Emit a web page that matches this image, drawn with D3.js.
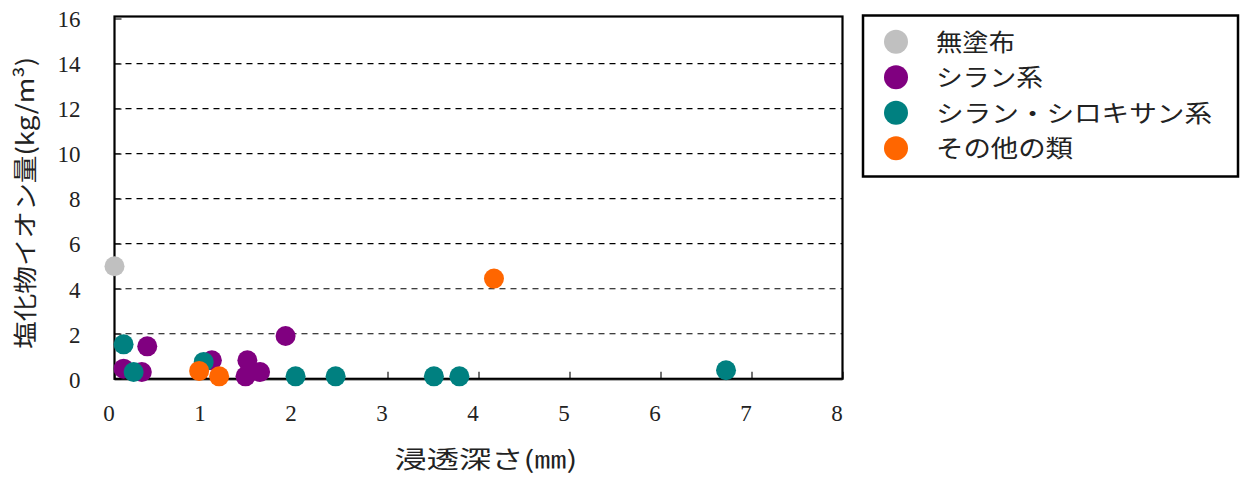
<!DOCTYPE html>
<html><head><meta charset="utf-8">
<script src="https://cdn.jsdelivr.net/npm/d3@7"></script>
<style>body{margin:0;background:#fff}svg{display:block}</style>
</head><body>
<svg id="c" width="1243" height="477"></svg>
<script>
const seriesNames = ["無塗布", "シラン系", "シラン・シロキサン系", "その他の類"];
const seriesColors = ["#c0c0c0", "#800080", "#008080", "#ff6600"];
const mutofuX = [0.0];
const mutofuY = [5.0];
const silaneX = [0.1, 0.36, 0.3, 1.07, 1.46, 1.44, 1.6, 1.88];
const silaneY = [0.45, 1.44, 0.3, 0.82, 0.82, 0.11, 0.3, 1.9];
const siloxX = [0.1, 0.21, 0.98, 1.99, 2.43, 3.51, 3.79, 6.72];
const siloxY = [1.53, 0.3, 0.75, 0.11, 0.11, 0.11, 0.11, 0.38];
const otherX = [0.93, 1.15, 4.17];
const otherY = [0.35, 0.11, 4.45];
const xTicks = [0, 1, 2, 3, 4, 5, 6, 7, 8];
const yTicks = [0, 2, 4, 6, 8, 10, 12, 14, 16];
const xTitle = "浸透深さ(㎜)";
const yTitle = "塩化物イオン量(kg/m³)";

const seriesX = [mutofuX, silaneX, siloxX, otherX];
const seriesY = [mutofuY, silaneY, siloxY, otherY];

const svg = d3.select("#c");
const L = 114.5, R = 842.5, T = 18.5, B = 378.8;
const x = d3.scaleLinear().domain([0, 8]).range([L, R]);
const y = d3.scaleLinear().domain([0, 16]).range([B, T]);
const jp = "'Noto Sans CJK JP','Noto Sans CJK SC',sans-serif";
const serifFont = "Liberation Serif";

// gridlines
svg.append("g").selectAll("line").data(yTicks.filter(v => v > 0 && v < 16)).join("line")
  .attr("x1", L).attr("x2", R).attr("y1", d => y(d)).attr("y2", d => y(d))
  .attr("stroke", "#000").attr("stroke-width", 1.2).attr("stroke-dasharray", "6,5");

// axes with inward ticks
const xAxis = d3.axisBottom(x).tickValues(xTicks).tickSize(-7).tickFormat(d3.format("d"));
const gx = svg.append("g").attr("transform", `translate(0,${B})`).call(xAxis);
gx.select(".domain").remove();
gx.selectAll(".tick line").attr("stroke", "#444").attr("stroke-width", 1.5);
gx.selectAll(".tick text")
  .style("font-family", serifFont).style("font-size", "23px").style("fill", "#222")
  .attr("dx", -6).attr("y", 26).attr("dy", "0.71em");

const yAxis = d3.axisLeft(y).tickValues(yTicks).tickSize(-7);
const gy = svg.append("g").attr("transform", `translate(${L},0)`).call(yAxis);
gy.select(".domain").remove();
gy.selectAll(".tick line").attr("stroke", "#444").attr("stroke-width", 1.5);
gy.selectAll(".tick text")
  .style("font-family", serifFont).style("font-size", "23px").style("fill", "#222")
  .attr("x", -34).attr("dy", "0.36em");

// frame
svg.append("line").attr("x1", L).attr("x2", R).attr("y1", B + 1.5).attr("y2", B + 1.5).attr("stroke", "#999").attr("stroke-width", 1);
svg.append("rect").attr("x", L).attr("y", T - 2).attr("width", R - L).attr("height", B - T + 2)
  .attr("fill", "none").attr("stroke", "#000").attr("stroke-width", 2.2);

// points
seriesNames.forEach((name, i) => {
  const pts = seriesX[i].map((v, j) => [v, seriesY[i][j]]);
  svg.append("g").selectAll("circle").data(pts).join("circle")
    .attr("cx", d => x(d[0])).attr("cy", d => y(d[1])).attr("r", 10)
    .attr("fill", seriesColors[i]);
});

// axis titles
svg.append("text").attr("x", 486).attr("y", 468).attr("text-anchor", "middle")
  .style("font-family", jp).style("font-size", "24px").attr("fill", "#222")
  .attr("textLength", 183).attr("lengthAdjust", "spacingAndGlyphs").text(xTitle);
svg.append("text").attr("transform", "translate(34,203) rotate(-90)").attr("text-anchor", "middle")
  .style("font-family", jp).style("font-size", "24px").attr("fill", "#222")
  .attr("textLength", 292).attr("lengthAdjust", "spacingAndGlyphs").text(yTitle);

// legend
const lg = svg.append("g");
lg.append("rect").attr("x", 863).attr("y", 15.5).attr("width", 375).attr("height", 161)
  .attr("fill", "#fff").attr("stroke", "#000").attr("stroke-width", 2.5);
const legendWidths = [79, 107, 276, 137];
seriesNames.forEach((name, i) => {
  const cy = 41.7 + i * 35.5;
  lg.append("circle").attr("cx", 896).attr("cy", cy).attr("r", 12).attr("fill", seriesColors[i]);
  lg.append("text").attr("x", 936).attr("y", cy + 9).style("font-family", jp).style("font-size", "24px")
    .attr("fill", "#222").attr("textLength", legendWidths[i]).attr("lengthAdjust", "spacingAndGlyphs").text(name);
});
</script>
</body></html>
